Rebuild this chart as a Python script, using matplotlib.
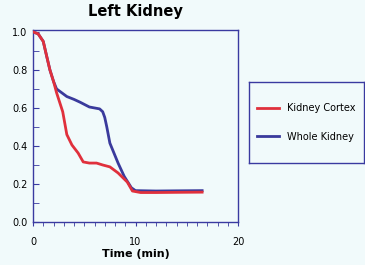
import matplotlib
matplotlib.use("Agg")
import matplotlib.pyplot as plt
from matplotlib.lines import Line2D

# Data
cortex_t = [0, 0.5, 1.0, 1.3, 1.65, 2.0, 2.3, 2.6, 2.9, 3.3, 3.8, 4.4, 4.9, 5.5, 6.2, 6.8, 7.5, 8.3, 9.2, 9.7, 10.5, 12, 14, 16.5]
cortex_v = [1.0, 0.99, 0.95, 0.88, 0.80, 0.74, 0.68, 0.63, 0.58, 0.46, 0.405, 0.363, 0.316, 0.31, 0.31, 0.30, 0.29, 0.258, 0.21, 0.163, 0.155, 0.155, 0.156, 0.157]

whole_t = [0, 0.5, 1.0, 1.3, 1.65, 2.0, 2.3, 2.8, 3.3, 4.0, 4.6, 5.5, 6.5, 6.8, 7.0, 7.2, 7.5, 8.3, 8.9, 9.6, 10.0, 12, 14, 16.5]
whole_v = [1.0, 0.99, 0.95, 0.88, 0.80, 0.74, 0.70, 0.68, 0.66, 0.645, 0.63, 0.605, 0.595, 0.58, 0.55, 0.50, 0.415, 0.31, 0.24, 0.18, 0.165, 0.163, 0.164, 0.165]

title = "Left Kidney"
xlabel = "Time (min)"
labels = ["Kidney Cortex", "Whole Kidney"]
xticks = [0, 10, 20]
yticks = [0.0, 0.2, 0.4, 0.6, 0.8, 1.0]

bg = "#f1fafb"
red = "#e0303c"
blue = "#3a3a9c"
spine = "#3a3aa0"

W, H = 365, 265
fig = plt.figure(figsize=(W / 100, H / 100), dpi=100, facecolor=bg)
ax = fig.add_axes([33 / W, 1 - 222 / H, 205 / W, 192 / H])
ax.set_facecolor(bg)
ax.plot(whole_t, whole_v, color=blue, lw=2.0, zorder=2)
ax.plot(cortex_t, cortex_v, color=red, lw=2.0, zorder=3)
ax.set_xlim(0, 20)
ax.set_ylim(0, 1.01)
ax.set_xticks(xticks)
ax.set_yticks(yticks)
ax.set_xticks(range(0, 20), minor=True)
ax.set_yticks([i / 10 for i in range(11)], minor=True)
for s in ax.spines.values():
    s.set_color(spine)
    s.set_linewidth(1.0)
ax.tick_params(axis="x", which="both", direction="out", length=3, color=spine, labelsize=7, pad=8)
ax.tick_params(axis="y", which="both", direction="in", length=4, color=spine, labelsize=7, pad=4)
ax.set_xticklabels([str(v) for v in xticks])
ax.set_yticklabels([f"{v:.1f}" for v in yticks])
ax.set_title(title, fontsize=10.5, fontweight="bold", pad=10)
ax.set_xlabel(xlabel, fontsize=8, fontweight="bold", labelpad=1)

lax = fig.add_axes([249 / W, 1 - 163 / H, 115 / W, 81 / H])
lax.set_facecolor(bg)
lax.set_xticks([])
lax.set_yticks([])
for s in lax.spines.values():
    s.set_color(spine)
    s.set_linewidth(1.0)
handles = [Line2D([], [], color=red, lw=2), Line2D([], [], color=blue, lw=2)]
lax.legend(handles, labels, loc="center", frameon=False, fontsize=7,
           handlelength=2.2, handletextpad=0.9, labelspacing=1.9)

fig.savefig("out.png", dpi=100, facecolor=bg)
